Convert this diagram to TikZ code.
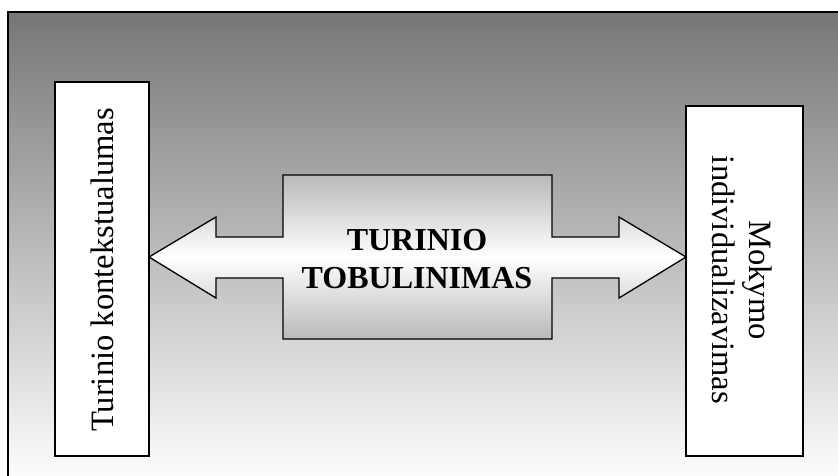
\documentclass[tikz,border=0pt]{standalone}
\usepackage{fontspec}
\setmainfont{Liberation Serif}
\begin{document}
\begin{tikzpicture}[x=1pt,y=-1pt,
  edge/.style={draw=black,line width=1.3pt},
  sidebox/.style={edge,fill=white},
  lbl/.style={font=\fontsize{32.6}{37}\selectfont,align=center},
  blbl/.style={font=\fontsize{32}{38}\selectfont\bfseries,align=center}]
\useasboundingbox (0,0) rectangle (838,475);
\path[top color={rgb,255:red,118;green,118;blue,118},bottom color=white,draw=black,line width=1.3pt]
  (8,12) rectangle (845,485);
% left and right boxes
\path[sidebox] (55,82) rectangle (149,456);
\coordinate (ltip) at (149,257);
\path[sidebox] (686,106) rectangle (803,456);
\coordinate (rtip) at (686,257);
\node[lbl,rotate=90] (lt) at (102,270) {Turinio kontekstualumas};
\node[lbl,rotate=-90] (rt) at (742,280) {Mokymo\\individualizavimas};
% double arrow
\path[edge,top color={rgb,255:red,185;green,185;blue,185},bottom color={rgb,255:red,185;green,185;blue,185},middle color=white]
  (ltip) -- (216,217) -- (216,237) -- (283,237) -- (283,175) -- (552,175) -- (552,237)
  -- (619,237) -- (619,217) -- (rtip) -- (619,298) -- (619,278) -- (552,278)
  -- (552,339) -- (283,339) -- (283,278) -- (216,278) -- (216,298) -- cycle;
\node[blbl] (ct) at (417,259) {TURINIO\\TOBULINIMAS};
\end{tikzpicture}
\end{document}
